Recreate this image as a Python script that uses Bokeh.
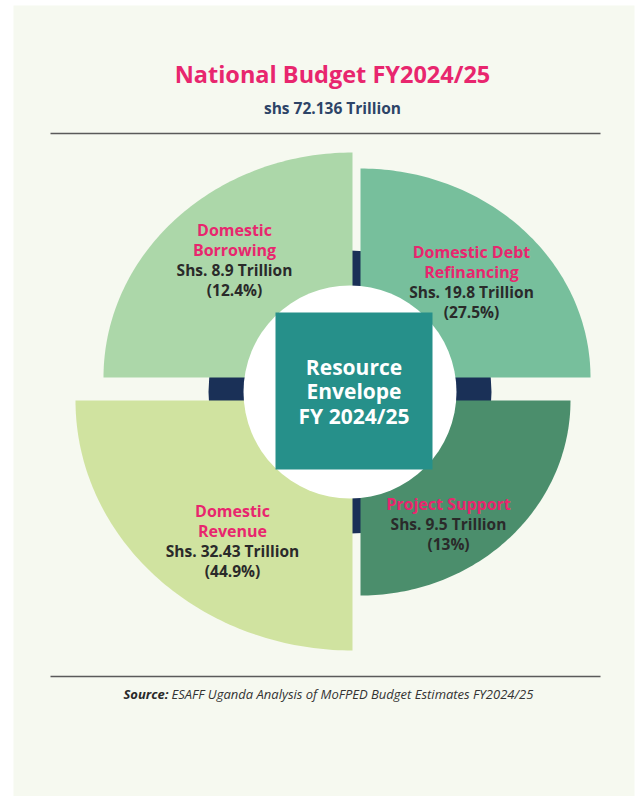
import numpy as np
from bokeh.plotting import figure
from bokeh.models import Range1d
from bokeh.core.properties import value
from bokeh.embed import file_html
from bokeh.resources import INLINE

# ---------------- data ----------------
title = "National Budget FY2024/25"
total_trillion = 72.136
categories = ["Domestic Borrowing", "Domestic Debt Refinancing", "Domestic Revenue", "Project Support"]
category_lines = [["Domestic", "Borrowing"], ["Domestic Debt", "Refinancing"], ["Domestic", "Revenue"], ["Project Support"]]
values_trillion = [8.9, 19.8, 32.43, 9.5]
shares_pct = [12.4, 27.5, 44.9, 13]
centre_lines = ["Resource", "Envelope", "FY 2024/25"]
source_label = "Source:"
source_text = "ESAFF Uganda Analysis of MoFPED Budget Estimates FY2024/25"

# ---------------- style / layout ----------------
W, H = 638, 796
BG = "#f6f9f0"
NAVY = "#1a3057"
TEAL = "#26908a"
PINK = "#e8266e"
DARK = "#2a2a2a"
colors = ["#acd7a9", "#77bf9c", "#d0e3a0", "#4b8e6c"]
# quadrant corner (x, y), radii (rx, ry), start/end angle (deg, y up)
corners = [(352, 377), (360, 377), (352, 400), (360, 400)]
radii = [(249, 225), (230, 209), (277, 250), (210, 195)]
angles = [(90, 180), (0, 90), (180, 270), (270, 360)]
label_xy = [(234, 229), (471, 251), (232, 510), (448, 503)]
LINE_H = 20
CX, CY = 349.5, 391.5
FONT = value("Open Sans")

p = figure(width=W, height=H, x_range=Range1d(0, W), y_range=Range1d(H, 0),
           output_backend="svg", toolbar_location=None, min_border=0)
p.axis.visible = False
p.grid.visible = False
p.outline_line_color = None
p.background_fill_color = "white"
p.border_fill_color = "white"

# page background panel
p.quad(left=[13], right=[634], top=[5], bottom=[796], fill_color=BG, line_color=None)

# title & subtitle
p.text(x=[332], y=[73], text=[title], text_font=FONT, text_font_style="bold",
       text_font_size="23.5px", text_color=PINK, text_align="center", text_baseline="middle")
p.text(x=[332], y=[107], text=[f"shs {total_trillion:g} Trillion"], text_font=FONT,
       text_font_style="bold", text_font_size="15.5px", text_color="#2d4467",
       text_align="center", text_baseline="middle")
p.segment(x0=[50, 50], x1=[600, 600], y0=[133, 676], y1=[133, 676], line_color="#5a5a5a", line_width=1.5)

# navy disc behind
p.ellipse(x=[CX], y=[CY], width=[283], height=[283], fill_color=NAVY, line_color=None)

# elliptical quarter wedges
xs, ys = [], []
for (cx, cy), (rx, ry), (a0, a1) in zip(corners, radii, angles):
    t = np.radians(np.linspace(a0, a1, 90))
    xs.append(np.concatenate([[cx], cx + rx * np.cos(t)]))
    ys.append(np.concatenate([[cy], cy - ry * np.sin(t)]))
p.patches(xs=xs, ys=ys, fill_color=colors, line_color=None)

# white circle and teal square
p.ellipse(x=[CX], y=[CY], width=[213], height=[213], fill_color="white", line_color=None)
p.quad(left=[275], right=[432], top=[312], bottom=[469], fill_color=TEAL, line_color=None)
p.text(x=[353.5] * 3, y=[366, 390.5, 415], text=centre_lines, text_font=FONT, text_font_style="bold",
       text_font_size="21px", text_color="white", text_align="center", text_baseline="middle")

# quadrant labels
for (lx, ly), names, v, s in zip(label_xy, category_lines, values_trillion, shares_pct):
    n = len(names)
    p.text(x=[lx] * n, y=[ly + i * LINE_H for i in range(n)], text=names, text_font=FONT,
           text_font_style="bold", text_font_size="16px", text_color=PINK,
           text_align="center", text_baseline="middle")
    p.text(x=[lx] * 2, y=[ly + n * LINE_H, ly + (n + 1) * LINE_H],
           text=[f"Shs. {v:g} Trillion", f"({s:g}%)"], text_font=FONT,
           text_font_style="bold", text_font_size="15.5px", text_color=DARK,
           text_align="center", text_baseline="middle")

# source
p.text(x=[168], y=[693], text=[source_label], text_font=FONT, text_font_style="bold italic",
       text_font_size="13px", text_color=DARK, text_align="right", text_baseline="middle")
p.text(x=[171], y=[693], text=[source_text], text_font=FONT, text_font_style="italic",
       text_font_size="13px", text_color="#333333", text_align="left", text_baseline="middle")

open("out.html", "w").write(file_html(p, INLINE))
